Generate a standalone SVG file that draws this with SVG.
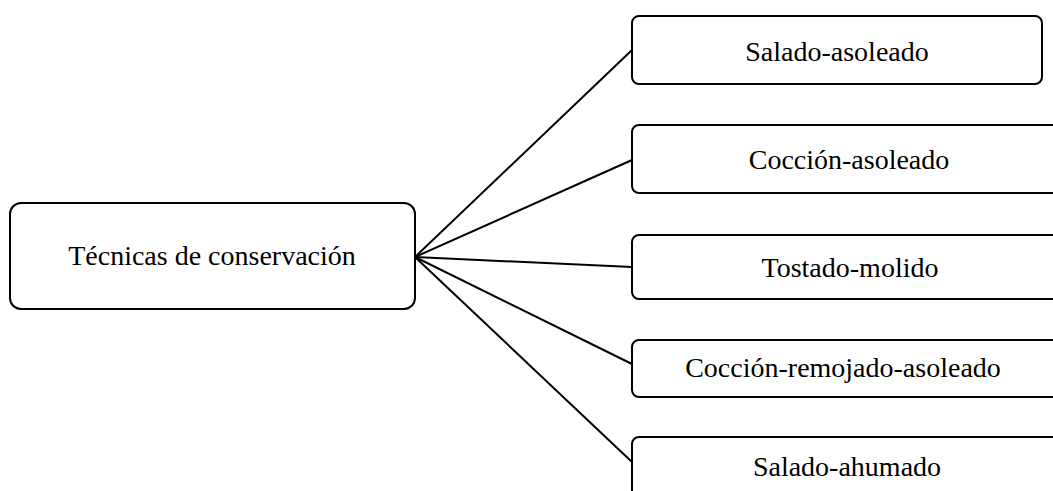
<svg xmlns="http://www.w3.org/2000/svg" width="1053" height="491" viewBox="0 0 1053 491">
<style>
.box{fill:#fff;stroke:#000;stroke-width:2}
.lbl{font-family:"Liberation Serif","Times New Roman",serif;font-size:28px;fill:#000;text-anchor:middle}
.con{stroke:#000;stroke-width:2;fill:none}
</style>
<rect width="1053" height="491" fill="#fff"/>
<g id="connectors">
<line class="con" x1="415" y1="257" x2="632" y2="50"/>
<line class="con" x1="415" y1="257" x2="632" y2="160"/>
<line class="con" x1="415" y1="257" x2="632" y2="267"/>
<line class="con" x1="415" y1="257" x2="632" y2="364"/>
<line class="con" x1="415" y1="257" x2="632" y2="462"/>
</g>
<g id="root">
<rect class="box" x="10" y="203" width="405" height="106" rx="11"/>
<text class="lbl" x="212" y="265">Técnicas de conservación</text>
</g>
<g id="n1">
<rect class="box" x="632" y="16" width="410" height="68" rx="7"/>
<text class="lbl" x="837" y="61">Salado-asoleado</text>
</g>
<g id="n2">
<rect class="box" x="632" y="125" width="434" height="68" rx="7"/>
<text class="lbl" x="849" y="169">Cocción-asoleado</text>
</g>
<g id="n3">
<rect class="box" x="632" y="235" width="436" height="64" rx="7"/>
<text class="lbl" x="850" y="277">Tostado-molido</text>
</g>
<g id="n4">
<rect class="box" x="632" y="340" width="430" height="57" rx="7"/>
<text class="lbl" x="843" y="377">Cocción-remojado-asoleado</text>
</g>
<g id="n5">
<rect class="box" x="632" y="437" width="431" height="70" rx="7"/>
<text class="lbl" x="847" y="476">Salado-ahumado</text>
</g>
</svg>
